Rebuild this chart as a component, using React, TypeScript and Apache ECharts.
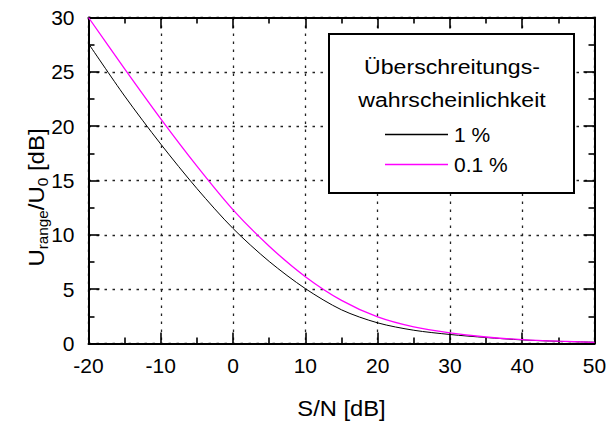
import React, { useEffect, useRef } from "react";
import * as echarts from "echarts";

// S/N in dB (x) and range expansion U_range/U_0 in dB (y)
const snrDb = [-20, -15, -10, -5, 0, 5, 10, 15, 20, 25, 30, 35, 40, 45, 50];
const range1Pct = [
  27.6, 22.77, 18.35, 14.26, 10.58, 7.55, 5.05, 3.1, 1.9, 1.22, 0.83, 0.55,
  0.33, 0.2, 0.12,
];
const range01Pct = [
  30, 25.27, 20.67, 16.32, 12.3, 8.95, 6.15, 3.97, 2.45, 1.53, 0.98, 0.6, 0.36,
  0.21, 0.11,
];
const seriesNames = ["1 %", "0.1 %"];
const seriesColors = ["#000000", "#ff00ff"];
const legendTitle = ["Überschreitungs-", "wahrscheinlichkeit"];
const xTitle = "S/N [dB]";
// y title fragments: [text, isSubscript]
const yTitleParts: [string, boolean][] = [
  ["U", false],
  ["range", true],
  ["/U", false],
  ["0", true],
  [" [dB]", false],
];

const FONT = '"Liberation Sans", Arial, Helvetica, sans-serif';
const MAIN_SIZE = 21;
const TITLE_SIZE = 22;
const SUB_SIZE = 14;

function textWidth(text: string, size: number): number {
  const ctx = document.createElement("canvas").getContext("2d");
  if (!ctx) return text.length * size * 0.55;
  ctx.font = `${size}px "Liberation Sans"`;
  return ctx.measureText(text).width;
}

function buildYTitle() {
  const widths = yTitleParts.map(([t, sub]) =>
    textWidth(t, sub ? SUB_SIZE : TITLE_SIZE)
  );
  const total = widths.reduce((a, b) => a + b, 0);
  let cursor = -total / 2;
  const children = yTitleParts.map(([t, sub], i) => {
    const el = {
      type: "text",
      x: cursor,
      y: sub ? 7 : 0,
      style: {
        text: t,
        fontSize: sub ? SUB_SIZE : TITLE_SIZE,
        fontFamily: FONT,
        fill: "#000",
        align: "left",
        verticalAlign: "middle",
      },
    };
    cursor += widths[i];
    return el;
  });
  return {
    type: "group",
    x: 36,
    y: 197.5,
    rotation: Math.PI / 2,
    scaleX: 1.09,
    children,
  };
}

const axisCommon = {
  type: "value" as const,
  axisLine: { show: true, onZero: false, lineStyle: { color: "#000", width: 2 } },
  axisTick: { show: true, inside: true, length: 11, lineStyle: { color: "#000", width: 1.6 } },
  minorTick: { show: true, splitNumber: 2, length: 6, lineStyle: { color: "#000", width: 1.6 } },
};

const labelStyle = { color: "#000", fontSize: MAIN_SIZE, fontFamily: FONT };
const gridLine = {
  show: true,
  lineStyle: { color: "#222", width: 1.3, type: [2.5, 5.5] as number[] },
};

export default function App() {
  const ref = useRef<HTMLDivElement>(null);

  useEffect(() => {
    if (!ref.current) return;
    const chart = echarts.init(ref.current, undefined, { renderer: "svg" });
    const pairs = (ys: number[]) => snrDb.map((x, i) => [x, ys[i]]);

    chart.setOption({
      animation: false,
      backgroundColor: "#fff",
      grid: { left: 88.5, right: 17.5, top: 17.5, bottom: 79.5, containLabel: false },
      xAxis: [
        {
          ...axisCommon,
          position: "bottom",
          min: -20,
          max: 50,
          interval: 10,
          axisLabel: { ...labelStyle, margin: 11 },
          splitLine: gridLine,
        },
        {
          ...axisCommon,
          position: "top",
          min: -20,
          max: 50,
          interval: 10,
          axisLabel: { show: false },
          splitLine: { show: false },
        },
      ],
      yAxis: [
        {
          ...axisCommon,
          position: "left",
          min: 0,
          max: 30,
          interval: 5,
          axisLabel: { ...labelStyle, margin: 14 },
          splitLine: gridLine,
        },
        {
          ...axisCommon,
          position: "right",
          min: 0,
          max: 30,
          interval: 5,
          axisLabel: { show: false },
          splitLine: { show: false },
        },
      ],
      legend: {
        show: true,
        orient: "vertical",
        left: 380,
        top: 119,
        icon: "rect",
        itemWidth: 63,
        itemHeight: 1.4,
        itemGap: 9,
        z: 10,
        data: seriesNames,
        textStyle: { color: "#000", fontSize: MAIN_SIZE, fontFamily: FONT, padding: [0, 0, 0, 1] },
      },
      graphic: [
        {
          type: "rect",
          z: 5,
          shape: { x: 329, y: 34, width: 245, height: 159 },
          style: { fill: "#fff", stroke: "#000", lineWidth: 2 },
        },
        ...legendTitle.map((t, i) => ({
          type: "text",
          z: 10,
          x: 452,
          y: 66.5 + i * 33,
          scaleX: 1.1,
          style: {
            text: t,
            fontSize: MAIN_SIZE,
            fontFamily: FONT,
            fill: "#000",
            align: "center",
            verticalAlign: "middle",
          },
        })),
        {
          type: "text",
          x: 341.5,
          y: 408,
          scaleX: 1.08,
          style: {
            text: xTitle,
            fontSize: TITLE_SIZE,
            fontFamily: FONT,
            fill: "#000",
            align: "center",
            verticalAlign: "middle",
          },
        },
        buildYTitle(),
      ],
      series: [
        {
          name: seriesNames[0],
          type: "line",
          data: pairs(range1Pct),
          symbol: "none",
          smooth: 0.3,
          lineStyle: { color: seriesColors[0], width: 1 },
          itemStyle: { color: seriesColors[0] },
        },
        {
          name: seriesNames[1],
          type: "line",
          data: pairs(range01Pct),
          symbol: "none",
          smooth: 0.3,
          lineStyle: { color: seriesColors[1], width: 1.3 },
          itemStyle: { color: seriesColors[1] },
        },
      ],
    });

    return () => chart.dispose();
  }, []);

  return (
    <div
      ref={ref}
      style={{ position: "fixed", left: 0, top: 0, width: 612, height: 423 }}
    />
  );
}
